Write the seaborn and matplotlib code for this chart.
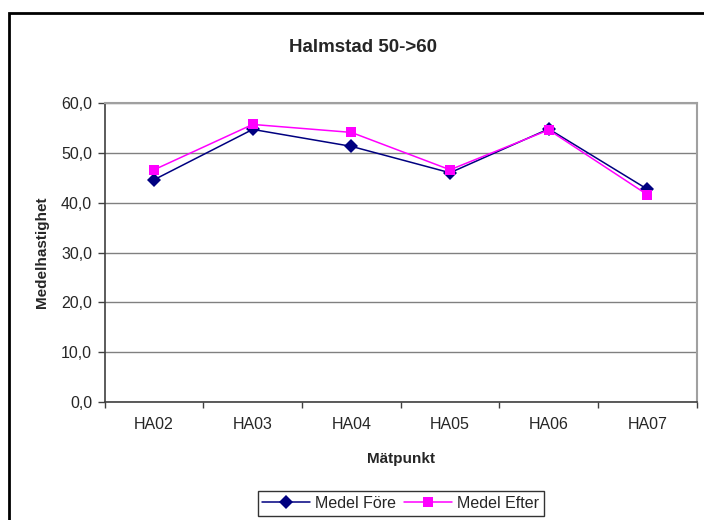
import pandas as pd
import matplotlib
matplotlib.use("Agg")
import matplotlib.pyplot as plt
import seaborn as sns
from matplotlib.ticker import FuncFormatter, FixedLocator
from matplotlib.patches import Rectangle

# data
matpunkt = ["HA02", "HA03", "HA04", "HA05", "HA06", "HA07"]
medel_fore = [44.6, 54.7, 51.3, 46.0, 54.8, 42.7]
medel_efter = [46.6, 55.7, 54.1, 46.6, 54.6, 41.6]

df = pd.DataFrame({
    "Mätpunkt": matpunkt * 2,
    "Medelhastighet": medel_fore + medel_efter,
    "serie": ["Medel Före"] * 6 + ["Medel Efter"] * 6,
})

sns.set_theme(style="white")
plt.rcParams["font.family"] = ["Liberation Sans", "DejaVu Sans"]

W, H = 704, 520
fig = plt.figure(figsize=(W / 100, H / 100), dpi=100)
ax = fig.add_axes([104.7 / W, 1 - 402 / H, (696.7 - 104.7) / W, (402 - 103) / H])

# ram runt diagrammet (avskuren till hoger/nere som i originalet)
fig.patches.append(Rectangle((9 / W, -0.05), 1.1, 1 - 13 / H + 0.05, transform=fig.transFigure,
                             fill=False, edgecolor="black", linewidth=2, zorder=0))

farger = {"Medel Före": "#000080", "Medel Efter": "#FF00FF"}
markorer = {"Medel Före": "D", "Medel Efter": "s"}
sns.lineplot(data=df, x="Mätpunkt", y="Medelhastighet", hue="serie", style="serie",
             palette=farger, markers=markorer, dashes=False, linewidth=1.1,
             markersize=7, markeredgewidth=0, ax=ax, zorder=3)

ax.set_xlim(-0.5, 5.5)
ax.set_ylim(0, 60)
ax.set_yticks(range(0, 61, 10))
ax.yaxis.set_major_formatter(FuncFormatter(lambda v, p: f"{v:.1f}".replace(".", ",")))
ax.grid(axis="y", color="#808080", linewidth=1.0)
ax.set_axisbelow(True)

# x-ticks mellan kategorierna, etiketter i mitten
ax.xaxis.set_major_locator(FixedLocator([i - 0.5 for i in range(7)]))
ax.xaxis.set_minor_locator(FixedLocator(list(range(6))))
ax.set_xticklabels([], minor=False)
ax.set_xticklabels(matpunkt, minor=True)
ax.tick_params(axis="x", which="major", length=4, width=1, color="#404040", direction="out", bottom=True)
ax.tick_params(axis="x", which="minor", length=0, pad=11, labelsize=11.5)
ax.tick_params(axis="y", length=5, width=1, color="#404040", direction="out", left=True, labelsize=11.5, pad=4)

for s in ["left", "bottom"]:
    ax.spines[s].set_color("#404040")
    ax.spines[s].set_linewidth(1.2)
for s in ["top", "right"]:
    ax.spines[s].set_color("#A0A0A0")
    ax.spines[s].set_linewidth(1.5)

ax.set_xlabel("Mätpunkt", fontsize=11, fontweight="bold", labelpad=14)
ax.set_ylabel("Medelhastighet", fontsize=11, fontweight="bold", labelpad=9)
fig.text(363 / W, 1 - 47 / H, "Halmstad 50->60", ha="center", va="center",
         fontsize=13.5, fontweight="bold")

handles, labels = ax.get_legend_handles_labels()
ax.legend(handles, labels, loc="upper center", bbox_to_anchor=(0.5, -(491 - 402) / (402 - 103)),
          ncol=2, frameon=True, fancybox=False, edgecolor="black", fontsize=11.5,
          handlelength=3.0, handletextpad=0.3, columnspacing=0.5, borderpad=0.3,
          borderaxespad=0)
ax.get_legend().get_frame().set_linewidth(1.0)

fig.savefig("out.png", dpi=100)
